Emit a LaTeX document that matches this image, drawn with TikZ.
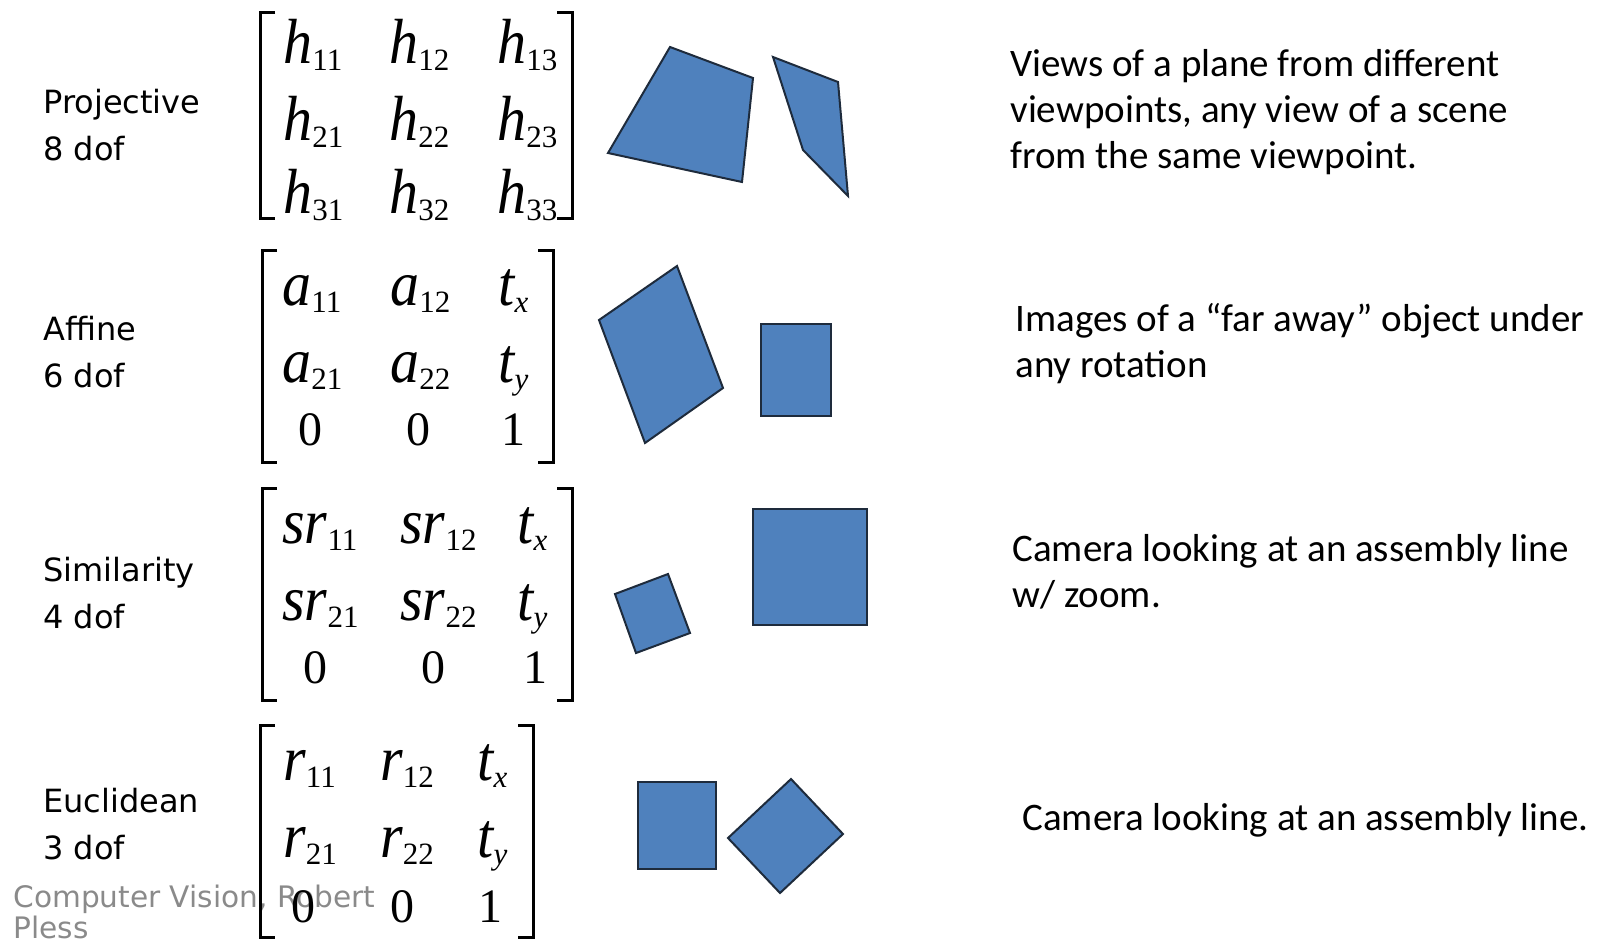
\documentclass[tikz,border=0pt]{standalone}
\usepackage{fontspec}
\usepackage{tikz}
\setmainfont{Liberation Serif}
\newfontfamily\labelfont{DejaVu Sans}
\newfontfamily\notefont{Carlito}
\definecolor{TileBlue}{HTML}{4F81BD}
\definecolor{TileEdge}{HTML}{1E2B3C}
\definecolor{FootGray}{HTML}{8A8A8A}
\newcommand{\mletter}[1]{\scalebox{1}[1.1]{\itshape\fontsize{29}{29}\selectfont #1}}
\newcommand{\msub}[1]{\raisebox{-3.5pt}{\fontsize{15.5}{15.5}\selectfont #1}}
\newcommand{\mnum}[1]{{\fontsize{24}{24}\selectfont #1}}

\begin{document}
\begin{tikzpicture}[
    x=0.5pt,y=-0.5pt,
    entry/.style={inner sep=0pt,anchor=base west},
    num/.style={inner sep=0pt,anchor=base},
    brk/.style={line width=1.5pt,black},
    tile/.style={fill=TileBlue,draw=TileEdge,line width=1pt},
    kind/.style={font=\labelfont\fontsize{16}{23.5}\selectfont,align=left,anchor=base west,inner sep=0pt},
    note/.style={font=\notefont\fontsize{19.5}{23}\selectfont,align=left,anchor=base west,inner sep=0pt},
    foot/.style={font=\labelfont\fontsize{14.8}{15.5}\selectfont,text=FootGray,align=left,anchor=base west,inner sep=0pt}]
    \useasboundingbox (0,0) rectangle (1598,943);
    % row titles (base = last line)
    \node[kind] (projective) at (43,160) {Projective\\8 dof};
    \node[kind] (affine) at (43,387) {Affine\\6 dof};
    \node[kind] (similarity) at (43,628) {Similarity\\4 dof};
    \node[kind] (euclidean) at (43,859) {Euclidean\\3 dof};
    \node[foot] (credit) at (13,938) {Computer Vision, Robert\\Pless};
    % brackets: left/right/top/bottom
    \foreach \l/\r/\t/\b in {260/572/12/218,262/553/250/462,262/572/488/700,260/533/725/937}{
      \draw[brk] (\l+15,\t) -| (\l,\b) -- (\l+15,\b);
      \draw[brk] (\r-15,\t) -| (\r,\b) -- (\r-15,\b);
    }
    % projective
    \foreach \row/\y in {1/63,2/140,3/213}
      \foreach \col/\x in {1/283,2/389,3/497}
        \node[entry] (h\row\col) at (\x,\y) {\mletter{h}\msub{\row\col}};
    % affine
    \foreach \row/\y/\v in {1/305/x,2/382/y}{
      \node[entry] (a\row1) at (282,\y) {\mletter{a}\msub{\row1}};
      \node[entry] (a\row2) at (390,\y) {\mletter{a}\msub{\row2}};
      \node[entry] (a\row3) at (498,\y) {\mletter{t}\msub{\itshape\v}};
    }
    \node[num] (a31) at (310,445) {\mnum{0}};
    \node[num] (a32) at (418,445) {\mnum{0}};
    \node[num] (a33) at (513,445) {\mnum{1}};
    % similarity
    \foreach \row/\y/\v in {1/543/x,2/620/y}{
      \node[entry] (s\row1) at (282,\y) {\mletter{sr}\msub{\row1}};
      \node[entry] (s\row2) at (400,\y) {\mletter{sr}\msub{\row2}};
      \node[entry] (s\row3) at (517,\y) {\mletter{t}\msub{\itshape\v}};
    }
    \node[num] (s31) at (315,683) {\mnum{0}};
    \node[num] (s32) at (433,683) {\mnum{0}};
    \node[num] (s33) at (535,683) {\mnum{1}};
    % euclidean
    \foreach \row/\y/\v in {1/780/x,2/857/y}{
      \node[entry] (e\row1) at (283,\y) {\mletter{r}\msub{\row1}};
      \node[entry] (e\row2) at (380,\y) {\mletter{r}\msub{\row2}};
      \node[entry] (e\row3) at (477,\y) {\mletter{t}\msub{\itshape\v}};
    }
    \node[num] (e31) at (303,922) {\mnum{0}};
    \node[num] (e32) at (402,922) {\mnum{0}};
    \node[num] (e33) at (490,922) {\mnum{1}};
    % example shapes
    \draw[tile] (670,47) -- (753,78) -- (742,182) -- (608,153) -- cycle;
    \draw[tile] (773,57) -- (838,82) -- (848,196) -- (803,150) -- cycle;
    \draw[tile] (677,266) -- (723,388) -- (645,443) -- (599,320) -- cycle;
    \draw[tile] (761,324) rectangle (831,416);
    \draw[tile] (615,594) -- (668,574) -- (690,633) -- (636,653) -- cycle;
    \draw[tile] (753,509) rectangle (867,625);
    \draw[tile] (638,782) rectangle (716,869);
    \draw[tile] (791,779) -- (843,834) -- (780,893) -- (728,838) -- cycle;
    % descriptions (base = last line)
    \node[note] (projnote) at (1010,168) {Views of a plane from different\\viewpoints, any view of a scene\\from the same viewpoint.};
    \node[note] (affnote) at (1015,377) {Images of a “far away” object under\\any rotation};
    \node[note] (simnote) at (1012,607) {Camera looking at an assembly line\\w/ zoom.};
    \node[note] (euclnote) at (1022,830) {Camera looking at an assembly line.};
  \end{tikzpicture}
\end{document}
